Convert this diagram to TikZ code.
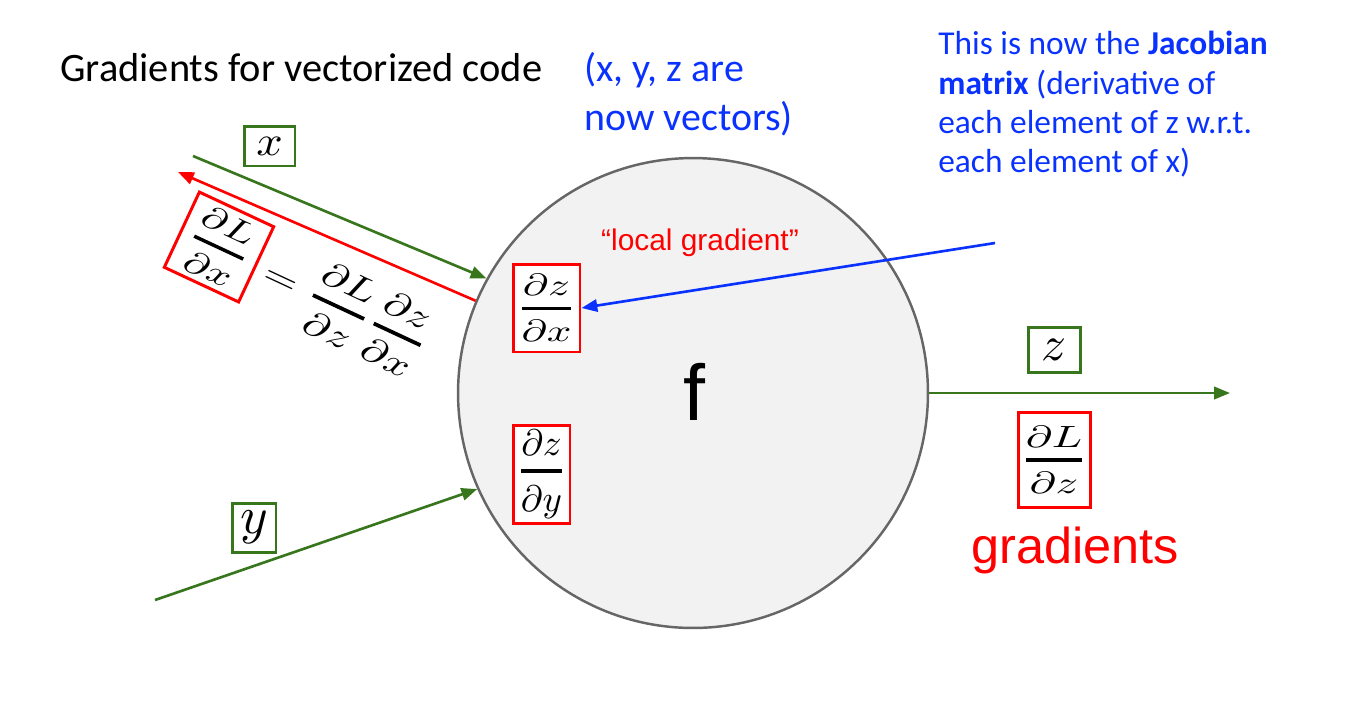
\documentclass[tikz,border=0pt]{standalone}
\usepackage{amsmath}
\usepackage{graphicx}
\usepackage{fontspec}
\setmainfont{Carlito}
\newfontfamily\arialf{Liberation Sans}
\usetikzlibrary{arrows.meta}
\definecolor{ggreen}{HTML}{38761D}
\definecolor{bblue}{HTML}{0A32FF}
\definecolor{cfill}{HTML}{F2F2F2}
\definecolor{cline}{HTML}{666666}
\newcommand{\pd}[2]{\genfrac{}{}{1.1pt}{0}{\partial #1}{\partial #2}}
% #1 = vertical scale, #2 = extra horizontal stretch
\newcommand{\mth}[3]{\scalebox{\fpeval{#1*#2}}[#1]{$\displaystyle #3$}}
\tikzset{
  redbox/.style={draw=red, line width=1.7pt, fill=white, inner sep=0pt},
  greenbox/.style={draw=ggreen, line width=1.7pt, fill=white, inner sep=0pt},
  garrow/.style={draw=ggreen, line width=1.5pt, -{Triangle[length=9pt,width=7pt]}},
  rarrow/.style={draw=red, line width=1.5pt, -{Triangle[length=9pt,width=7pt]}},
  barrow/.style={draw=bblue, line width=1.5pt, -{Triangle[length=9pt,width=7pt]}},
}
\begin{document}
\begin{tikzpicture}[x=0.02cm, y=-0.02cm]
\useasboundingbox (0,0) rectangle (1364,708);
% circle
\node[circle, draw=cline, fill=cfill, line width=1.4pt, minimum size=9.4cm, inner sep=0pt] (c) at (693,393) {};
\node[font=\arialf\fontsize{45}{45}\selectfont] (f) at (694,392) {f};
% titles
\node[anchor=west, inner sep=0pt, font=\fontsize{23}{27}\selectfont] (title) at (60,68) {Gradients for vectorized code};
\node[anchor=north west, inner sep=0pt, align=left, text=bblue, font=\fontsize{22.7}{27.8}\selectfont] (vec) at (584,52) {(x, y, z are\\now vectors)};
\node[anchor=north west, inner sep=0pt, align=left, text=bblue, font=\fontsize{19}{22.4}\selectfont] (jac) at (938,31) {This is now the \textbf{Jacobian}\\\textbf{matrix} (derivative of\\each element of z w.r.t.\\each element of x)};
\node[text=red, font=\arialf\fontsize{17}{20}\selectfont] (loc) at (700,243) {“local gradient”};
\node[text=red, font=\arialf\fontsize{28.7}{32}\selectfont] (grad) at (1075,550) {gradients};
% boxes inside circle
\node[redbox, minimum width=1.34cm, minimum height=1.76cm] (dzdx) at (546.5,308) {\mth{1.75}{1.4}{\pd zx}};
\node[redbox, minimum width=1.14cm, minimum height=1.96cm] (dzdy) at (541.5,474) {\mth{2.1}{1.0}{\pd zy}};
% output
\node[redbox, minimum width=1.44cm, minimum height=1.9cm] (dldz) at (1054,459.5) {\mth{1.75}{1.45}{\pd Lz}};
\node[greenbox, minimum width=1.04cm, minimum height=0.9cm] (zb) at (1054,349.5) {\mth{2.8}{1.0}{z}};
% inputs
\node[greenbox, minimum width=1.02cm, minimum height=0.8cm] (xb) at (269.5,146) {\mth{2.4}{1.1}{x}};
\node[greenbox, minimum width=0.88cm, minimum height=0.98cm] (yb) at (254,527.5) {\mth{3.0}{1.0}{y}};
% rotated chain rule
\node[redbox, rotate=-25, minimum width=1.64cm, minimum height=1.66cm] (eqL) at (219,247) {\mth{1.8}{1.35}{\pd Lx}};
\node[rotate=-25, anchor=west, inner xsep=5pt, inner ysep=0pt] (eqR) at ([yshift=-2pt]eqL.east) {\mth{1.95}{1.3}{=\pd Lz\pd zx}};
% connectors
\coordinate (xs) at (193,156);
\coordinate (rt) at (178,172);
\coordinate (ys) at (155,600);
\coordinate (ze) at (1230,393);
\coordinate (bs) at (995,243);
\draw[garrow] (xs) -- (c.151.3);
\draw[rarrow] (c.157) -- (rt);
\draw[garrow] (ys) -- (c.204.3);
\draw[garrow] (c.east) -- (ze);
\draw[barrow] (bs) -- (dzdx.east);
\end{tikzpicture}
\end{document}
